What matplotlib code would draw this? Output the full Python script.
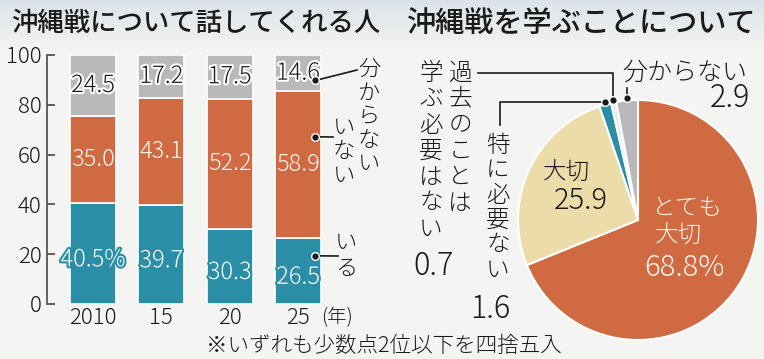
import matplotlib
matplotlib.use('Agg')
import matplotlib.pyplot as plt
import matplotlib.patheffects as pe
from matplotlib.lines import Line2D
from matplotlib.colors import LinearSegmentedColormap
import numpy as np

W, H = 764, 359

# 沖縄戦について話してくれる人 (%)
years = ['2010', '15', '20', '25']
iru = [40.5, 39.7, 30.3, 26.5]          # いる
inai = [35.0, 43.1, 52.2, 58.9]         # いない
wakaranai = [24.5, 17.2, 17.5, 14.6]    # 分からない

# 沖縄戦を学ぶことについて (%)
pie_names = ['とても大切', '大切', '特に必要ない', '過去のことは学ぶ必要はない', '分からない']
pie_values = [68.8, 25.9, 1.6, 0.7, 2.9]

TEAL = '#2a8ea6'
ORANGE = '#d06a42'
GRAY = '#b9b9b9'
BEIGE = '#ecdcaa'
PALE = '#e2eef2'
BG = '#f4f4f2'
INK = '#1a1a1a'
CREAM = '#fff5ea'
LW = 'light'

plt.rcParams['font.family'] = ['Noto Sans CJK JP', 'DejaVu Sans']

fig = plt.figure(figsize=(W / 100, H / 100), dpi=100, facecolor=BG)


def fx(px):
    return px / W


def fy(py):
    return 1 - py / H


def to_px(a, x, y):
    dx, dy = a.transData.transform((x, y))
    return dx, H - dy


def leader(pts):
    fig.add_artist(Line2D([fx(p[0]) for p in pts], [fy(p[1]) for p in pts],
                          color=INK, lw=1.2, transform=fig.transFigure))
    fig.add_artist(Line2D([fx(pts[0][0])], [fy(pts[0][1])], marker='o', ms=5.5,
                          mfc=INK, mec='white', mew=1, transform=fig.transFigure))


def vtext(x, y0, s, size, pitch, **kw):
    for i, ch in enumerate(s):
        fig.text(fx(x), fy(y0 + i * pitch), ch, ha='center', va='center',
                 fontsize=size, color=INK, weight=LW, **kw)


# title band
band = fig.add_axes([0, fy(50), 1, 50 / H], zorder=-10)
band.imshow(np.linspace(0, 1, 50)[:, None], aspect='auto',
            cmap=LinearSegmentedColormap.from_list('band', ['#dce3e8', BG]),
            extent=[0, 1, 0, 1])
band.axis('off')

fig.text(fx(196), fy(23), '沖縄戦について話してくれる人', ha='center', va='center',
         fontsize=19, weight='medium', color=INK)
fig.text(fx(581), fy(23), '沖縄戦を学ぶことについて', ha='center', va='center',
         fontsize=21, weight='medium', color=INK)

# ---- stacked bars ----
ax = fig.add_axes([fx(47), fy(304), (339 - 47) / W, (304 - 55) / H])
ax.patch.set_visible(False)
x = np.arange(len(years))
bw = 0.67
mid = np.array(iru) + np.array(inai)
ax.bar(x, iru, bw, color=TEAL, edgecolor='white', linewidth=1.2)
ax.bar(x, inai, bw, bottom=iru, color=ORANGE, edgecolor='white', linewidth=1.2)
ax.bar(x, wakaranai, bw, bottom=mid, color=GRAY, edgecolor='white', linewidth=1.2)
ax.set_xlim(-0.672, 3.6)
ax.set_ylim(0, 100)

for i in range(len(years)):
    t = f'{iru[i]:.1f}' + ('%' if i == 0 else '')
    ax.text(x[i], iru[i] / 2 - 2.5, t, ha='center', va='center', fontsize=17, color='white',
            weight=LW, path_effects=[pe.withStroke(linewidth=3, foreground=TEAL)])
    ax.text(x[i], iru[i] + inai[i] / 2, f'{inai[i]:.1f}', ha='center', va='center',
            fontsize=17, color=CREAM, weight=LW)
    ax.text(x[i], mid[i] + wakaranai[i] / 2, f'{wakaranai[i]:.1f}', ha='center', va='center',
            fontsize=17, color=INK, weight=LW,
            path_effects=[pe.withStroke(linewidth=3, foreground='white')])

for s in ['top', 'right', 'bottom']:
    ax.spines[s].set_visible(False)
ax.spines['left'].set_color('#555555')
ax.spines['left'].set_linewidth(1.3)
ax.set_yticks(range(0, 101, 20))
ax.tick_params(axis='y', direction='in', length=6, width=1.3, color='#555555',
               labelsize=16, pad=4, labelcolor=INK)
ax.set_xticks(x, years)
ax.tick_params(axis='x', length=0, labelsize=16, pad=2, labelcolor=INK)
for lab in ax.get_xticklabels() + ax.get_yticklabels():
    lab.set_fontweight(LW)
fig.text(fx(337), fy(318), '(年)', ha='center', va='center', fontsize=14, color=INK,
         weight=LW)

last = len(years) - 1
dx = x[last] + bw / 2 - 0.08
leader([to_px(ax, dx, mid[last] + wakaranai[last] * 0.3), (357, 70)])
leader([to_px(ax, dx, iru[last] + inai[last] * 0.69), (333, 137)])
leader([to_px(ax, dx, iru[last] * 0.73), (338, 256)])
vtext(369, 70, '分からない', 16, 23.5)
vtext(344, 128, 'いない', 16, 24)
vtext(346, 243, 'いる', 16, 26)

# ---- pie ----
R = 120
cx, cy = 638, 220
ax2 = fig.add_axes([fx(cx - R), fy(cy + R), 2 * R / W, 2 * R / H])
wedges, _ = ax2.pie(pie_values, colors=[ORANGE, BEIGE, TEAL, PALE, GRAY], startangle=90,
                    counterclock=False, wedgeprops=dict(edgecolor='white', linewidth=1.5))
ax2.set_xlim(-1, 1)
ax2.set_ylim(-1, 1)


def rim(w):
    a = np.deg2rad((w.theta1 + w.theta2) / 2)
    return to_px(ax2, 1.02 * np.cos(a), 1.02 * np.sin(a))


p_teal, p_pale, p_gray = rim(wedges[2]), rim(wedges[3]), rim(wedges[4])
leader([p_gray, (p_gray[0], 88)])
leader([p_pale, (p_pale[0], 73), (478, 73)])
leader([p_teal, (500, p_teal[1]), (500, 125)])

fig.text(fx(685), fy(72), '分からない', ha='center', va='center', fontsize=18, color=INK,
         weight=LW)
fig.text(fx(750), fy(98), '2.9', ha='right', va='center', fontsize=22, color=INK, weight=LW)
vtext(460, 73, '過去のことは', 17, 26)
vtext(431, 73, '学ぶ必要はない', 17, 26)
fig.text(fx(434), fy(266), '0.7', ha='center', va='center', fontsize=22, color=INK, weight=LW)
vtext(498, 145, '特に必要ない', 17, 25)
fig.text(fx(490), fy(309), '1.6', ha='center', va='center', fontsize=22, color=INK, weight=LW)

fig.text(fx(567), fy(172), '大切', ha='center', va='center', fontsize=17, color=INK, weight=LW)
fig.text(fx(581), fy(201), '25.9', ha='center', va='center', fontsize=21, color=INK, weight=LW)
fig.text(fx(687), fy(208), 'とても', ha='center', va='center', fontsize=17, color=CREAM,
         weight=LW)
fig.text(fx(679), fy(235), '大切', ha='center', va='center', fontsize=17, color=CREAM,
         weight=LW)
fig.text(fx(684), fy(268), '68.8%', ha='center', va='center', fontsize=21, color=CREAM,
         weight=LW)

fig.text(fx(384), fy(346), '※いずれも少数点2位以下を四捨五入', ha='center', va='center',
         fontsize=15.5, color=INK, weight=LW)

fig.savefig('out.png', dpi=100, facecolor=BG)
